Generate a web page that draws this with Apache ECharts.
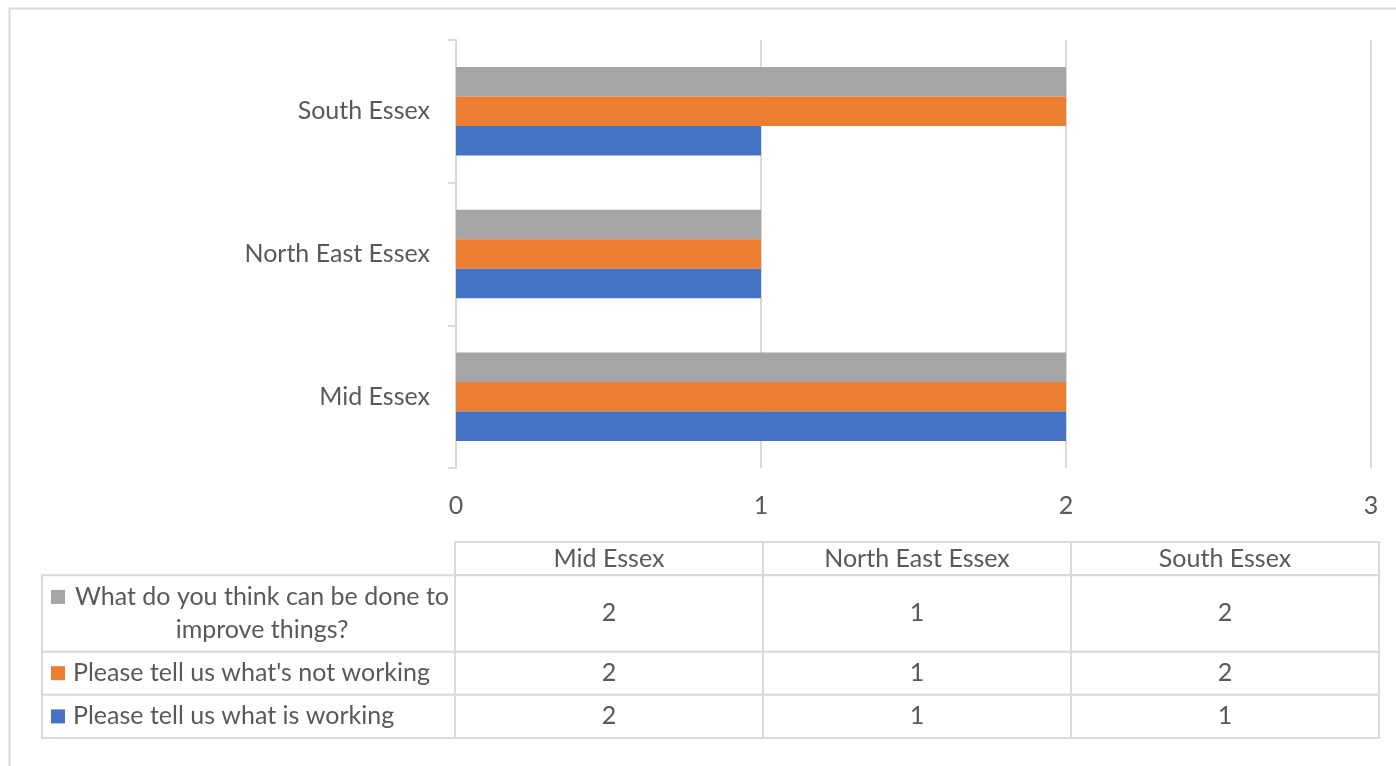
<!DOCTYPE html>
<html>
<head>
<meta charset="utf-8">
<style>
  html, body { margin: 0; padding: 0; background: #ffffff; }
  #chart { width: 1396px; height: 766px; }
</style>
<script src="https://cdn.jsdelivr.net/npm/echarts@6/dist/echarts.min.js"></script>
</head>
<body>
<div id="chart"></div>
<script>
// Regions on the category axis (bottom to top) and table columns (left to right)
const regions = ['Mid Essex', 'North East Essex', 'South Essex'];

// Survey questions, one series each
const seriesNames = [
  'Please tell us what is working',
  "Please tell us what's not working",
  'What do you think can be done to improve things?'
];
const seriesColors = ['#4472C4', '#ED7D31', '#A5A5A5'];

// Response counts per region
const working = [2, 1, 1];
const notWorking = [2, 1, 2];
const improve = [2, 1, 2];
const seriesValues = [working, notWorking, improve];

// Value axis range
const axisMin = 0;
const axisMax = 3;
const axisStep = 1;

// Styling
const FONT = 'Lato';
const FS = 25;
const LINE_H = 33;
const TEXT = '#595959';
const BORDER = '#d9d9d9';
const LABEL_COL_W = 413;
const ICON = 14;
const TEXT_OFFSET = 31;
const TEXT_PAD_R = 4;

// Wrap a label into lines that fit the legend column of the data table
const measureCtx = document.createElement('canvas').getContext('2d');
measureCtx.font = FS + 'px ' + FONT;
function wrapLabel(text, maxW) {
  const words = text.split(' ');
  const lines = [];
  let cur = '';
  words.forEach(w => {
    const trial = cur ? cur + ' ' + w : w;
    if (cur && measureCtx.measureText(trial).width > maxW) {
      lines.push(cur);
      cur = w;
    } else {
      cur = trial;
    }
  });
  if (cur) lines.push(cur);
  return lines;
}

// Build the data table cells: header row, then one row per series (last series on top)
const textAreaW = LABEL_COL_W - TEXT_OFFSET - TEXT_PAD_R;
const cells = [];
let rowPos = 0;
regions.forEach((r, i) => cells.push({ col: i, r0: 0, r1: 1, text: r }));
rowPos = 1;
for (let s = seriesNames.length - 1; s >= 0; s--) {
  const lines = wrapLabel(seriesNames[s], textAreaW);
  const h = lines.length + 0.3;
  cells.push({ col: -1, r0: rowPos, r1: rowPos + h, lines: lines, color: seriesColors[s] });
  seriesValues[s].forEach((v, i) => {
    cells.push({ col: i, r0: rowPos, r1: rowPos + h, text: String(v) });
  });
  rowPos += h;
}
const tableRows = rowPos;

function renderCell(params, api) {
  const cell = cells[params.dataIndex];
  const yTop = api.coord([0, cell.r0])[1];
  const yBot = api.coord([0, cell.r1])[1];
  let x0, x1;
  if (cell.col < 0) {
    x1 = api.coord([0, 0])[0];
    x0 = x1 - LABEL_COL_W;
  } else {
    x0 = api.coord([cell.col, 0])[0];
    x1 = api.coord([cell.col + 1, 0])[0];
  }
  const cy = (yTop + yBot) / 2;
  const children = [{
    type: 'rect',
    shape: { x: x0, y: yTop, width: x1 - x0, height: yBot - yTop },
    style: { fill: '#ffffff', stroke: BORDER, lineWidth: 2 }
  }];
  if (cell.col < 0) {
    const n = cell.lines.length;
    const firstY = cy - (n - 1) * LINE_H / 2;
    children.push({
      type: 'rect',
      shape: { x: x0 + 9, y: firstY - ICON / 2, width: ICON, height: ICON },
      style: { fill: cell.color }
    });
    const multi = n > 1;
    children.push({
      type: 'text',
      style: {
        text: cell.lines.join('\n'),
        x: multi ? x0 + TEXT_OFFSET + textAreaW / 2 : x0 + TEXT_OFFSET,
        y: cy,
        align: multi ? 'center' : 'left',
        verticalAlign: 'middle',
        lineHeight: LINE_H,
        fontFamily: FONT,
        fontSize: FS,
        fill: TEXT
      }
    });
  } else {
    children.push({
      type: 'text',
      style: {
        text: cell.text,
        x: (x0 + x1) / 2,
        y: cy,
        align: 'center',
        verticalAlign: 'middle',
        fontFamily: FONT,
        fontSize: FS,
        fill: TEXT
      }
    });
  }
  return { type: 'group', children: children };
}

const chart = echarts.init(document.getElementById('chart'), null, { renderer: 'canvas' });

// Bars within a band are stacked top-down in series order, so add the last question first
const barSeries = seriesNames.map((name, s) => ({
  name: name,
  type: 'bar',
  xAxisIndex: 0,
  yAxisIndex: 0,
  data: seriesValues[s],
  barGap: '0%',
  barCategoryGap: '38%',
  itemStyle: { color: seriesColors[s] }
})).reverse();

chart.setOption({
  animation: false,
  backgroundColor: '#ffffff',
  textStyle: { fontFamily: FONT },
  graphic: [{
    type: 'rect',
    left: 7, top: 6,
    shape: { width: 1420, height: 800 },
    style: { fill: 'none', stroke: BORDER, lineWidth: 2 },
    silent: true,
    z: -10
  }],
  grid: [
    { left: 456, right: 25, top: 40, bottom: 298, containLabel: false },
    { left: 455, right: 17, top: 542, bottom: 28, containLabel: false }
  ],
  xAxis: [{
    type: 'value',
    gridIndex: 0,
    min: axisMin,
    max: axisMax,
    interval: axisStep,
    axisLine: { show: false },
    axisTick: { show: false },
    axisLabel: { color: TEXT, fontSize: FS, fontFamily: FONT, margin: 25 },
    splitLine: { show: true, lineStyle: { color: BORDER, width: 2 } }
  }, {
    type: 'value',
    gridIndex: 1,
    min: 0,
    max: regions.length,
    show: false
  }],
  yAxis: [{
    type: 'category',
    gridIndex: 0,
    data: regions,
    axisLine: { show: true, lineStyle: { color: BORDER, width: 2 } },
    axisTick: { show: true, length: 8, lineStyle: { color: BORDER, width: 2 } },
    axisLabel: { color: TEXT, fontSize: FS, fontFamily: FONT, margin: 26 },
    splitLine: { show: false }
  }, {
    type: 'value',
    gridIndex: 1,
    min: 0,
    max: tableRows,
    inverse: true,
    show: false
  }],
  series: barSeries.concat([{
    type: 'custom',
    name: 'table',
    xAxisIndex: 1,
    yAxisIndex: 1,
    clip: false,
    silent: true,
    renderItem: renderCell,
    encode: { x: 0, y: [1, 2] },
    data: cells.map(c => [c.col, c.r0, c.r1])
  }])
});
</script>
</body>
</html>
